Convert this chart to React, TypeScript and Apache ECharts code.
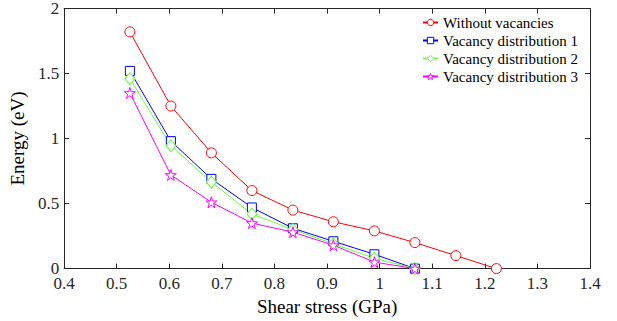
import React, { useEffect, useRef } from "react";
import * as echarts from "echarts";

const stressRed = [0.525, 0.603, 0.68, 0.757, 0.835, 0.912, 0.99, 1.067, 1.145, 1.222];
const energyRed = [1.82, 1.25, 0.89, 0.6, 0.45, 0.36, 0.29, 0.2, 0.1, 0];
const stressVac = [0.525, 0.603, 0.68, 0.757, 0.835, 0.912, 0.99, 1.067];
const energyVac1 = [1.52, 0.98, 0.69, 0.47, 0.31, 0.21, 0.11, 0];
const energyVac2 = [1.46, 0.945, 0.665, 0.42, 0.3, 0.19, 0.08, 0];
const energyVac3 = [1.35, 0.72, 0.51, 0.35, 0.28, 0.18, 0.05, 0];
const seriesNames = [
  "Without vacancies",
  "Vacancy distribution 1",
  "Vacancy distribution 2",
  "Vacancy distribution 3",
];
const seriesColors = ["#ff0000", "#0000ff", "#66ff33", "#ff00ff"];

const STAR =
  "path://M50,0 L61.8,35.4 L99,35.4 L69,57.3 L80.4,92.7 L50,70.8 L19.6,92.7 L31,57.3 L1,35.4 L38.2,35.4 Z";

const FONT = "Liberation Serif";
const AXIS_COLOR = "#262626";

function pairs(xs: number[], ys: number[]) {
  return ys.map((y, i) => [xs[i], y]);
}

export default function App() {
  const ref = useRef<HTMLDivElement>(null);
  useEffect(() => {
    const chart = echarts.init(ref.current!, null, { renderer: "svg" });
    const axisCommon = {
      axisLine: { show: true, onZero: false, lineStyle: { color: AXIS_COLOR, width: 1 } },
      axisTick: { show: true, inside: true, length: 5, lineStyle: { color: AXIS_COLOR } },
      splitLine: { show: false },
    };
    const mk = (
      name: string,
      data: number[][],
      color: string,
      symbol: string,
      size: number | number[]
    ) => ({
      name,
      type: "line",
      data,
      symbol,
      symbolSize: size,
      showAllSymbol: true,
      lineStyle: { color, width: 1 },
      itemStyle: { color: "#fff", borderColor: color, borderWidth: 1 },
      emphasis: { disabled: true },
      z: 3,
    });
    chart.setOption({
      animation: false,
      backgroundColor: "#fff",
      grid: { left: 60, right: 27, top: 5, bottom: 51, containLabel: false },
      textStyle: { fontFamily: FONT },
      legend: {
        orient: "vertical",
        left: 422,
        top: 15,
        padding: 0,
        itemWidth: 15,
        itemHeight: 8,
        itemGap: 3,
        textStyle: { fontFamily: FONT, fontSize: 15, color: "#000" },
        data: seriesNames.map((n, i) => ({
          name: n,
          itemStyle: { color: "#fff", borderColor: seriesColors[i], borderWidth: 1 },
        })),
      },
      xAxis: [
        {
          type: "value",
          min: 0.4,
          max: 1.4,
          interval: 0.1,
          position: "bottom",
          name: "Shear stress (GPa)",
          nameLocation: "middle",
          nameGap: 24,
          nameTextStyle: { fontFamily: FONT, fontSize: 19, color: "#000" },
          axisLabel: { fontFamily: FONT, fontSize: 17, lineHeight: 14, color: AXIS_COLOR, margin: 8 },
          ...axisCommon,
        },
        {
          type: "value",
          min: 0.4,
          max: 1.4,
          interval: 0.1,
          position: "top",
          axisLabel: { show: false },
          ...axisCommon,
        },
      ],
      yAxis: [
        {
          type: "value",
          min: 0,
          max: 2,
          interval: 0.5,
          position: "left",
          name: "Energy (eV)",
          nameLocation: "middle",
          nameGap: 23,
          nameTextStyle: { fontFamily: FONT, fontSize: 19, color: "#000" },
          axisLabel: { fontFamily: FONT, fontSize: 17, lineHeight: 14, color: AXIS_COLOR, margin: 5 },
          ...axisCommon,
        },
        {
          type: "value",
          min: 0,
          max: 2,
          interval: 0.5,
          position: "right",
          axisLabel: { show: false },
          ...axisCommon,
        },
      ],
      series: [
        mk(seriesNames[0], pairs(stressRed, energyRed), seriesColors[0], "circle", 10),
        mk(seriesNames[1], pairs(stressVac, energyVac1), seriesColors[1], "rect", 9),
        mk(seriesNames[2], pairs(stressVac, energyVac2), seriesColors[2], "diamond", [10, 12]),
        mk(seriesNames[3], pairs(stressVac, energyVac3), seriesColors[3], STAR, 11),
      ],
    });
    return () => chart.dispose();
  }, []);
  return (
    <div
      ref={ref}
      style={{ position: "fixed", left: 0, top: 0, width: 617, height: 321, background: "#fff" }}
    />
  );
}
